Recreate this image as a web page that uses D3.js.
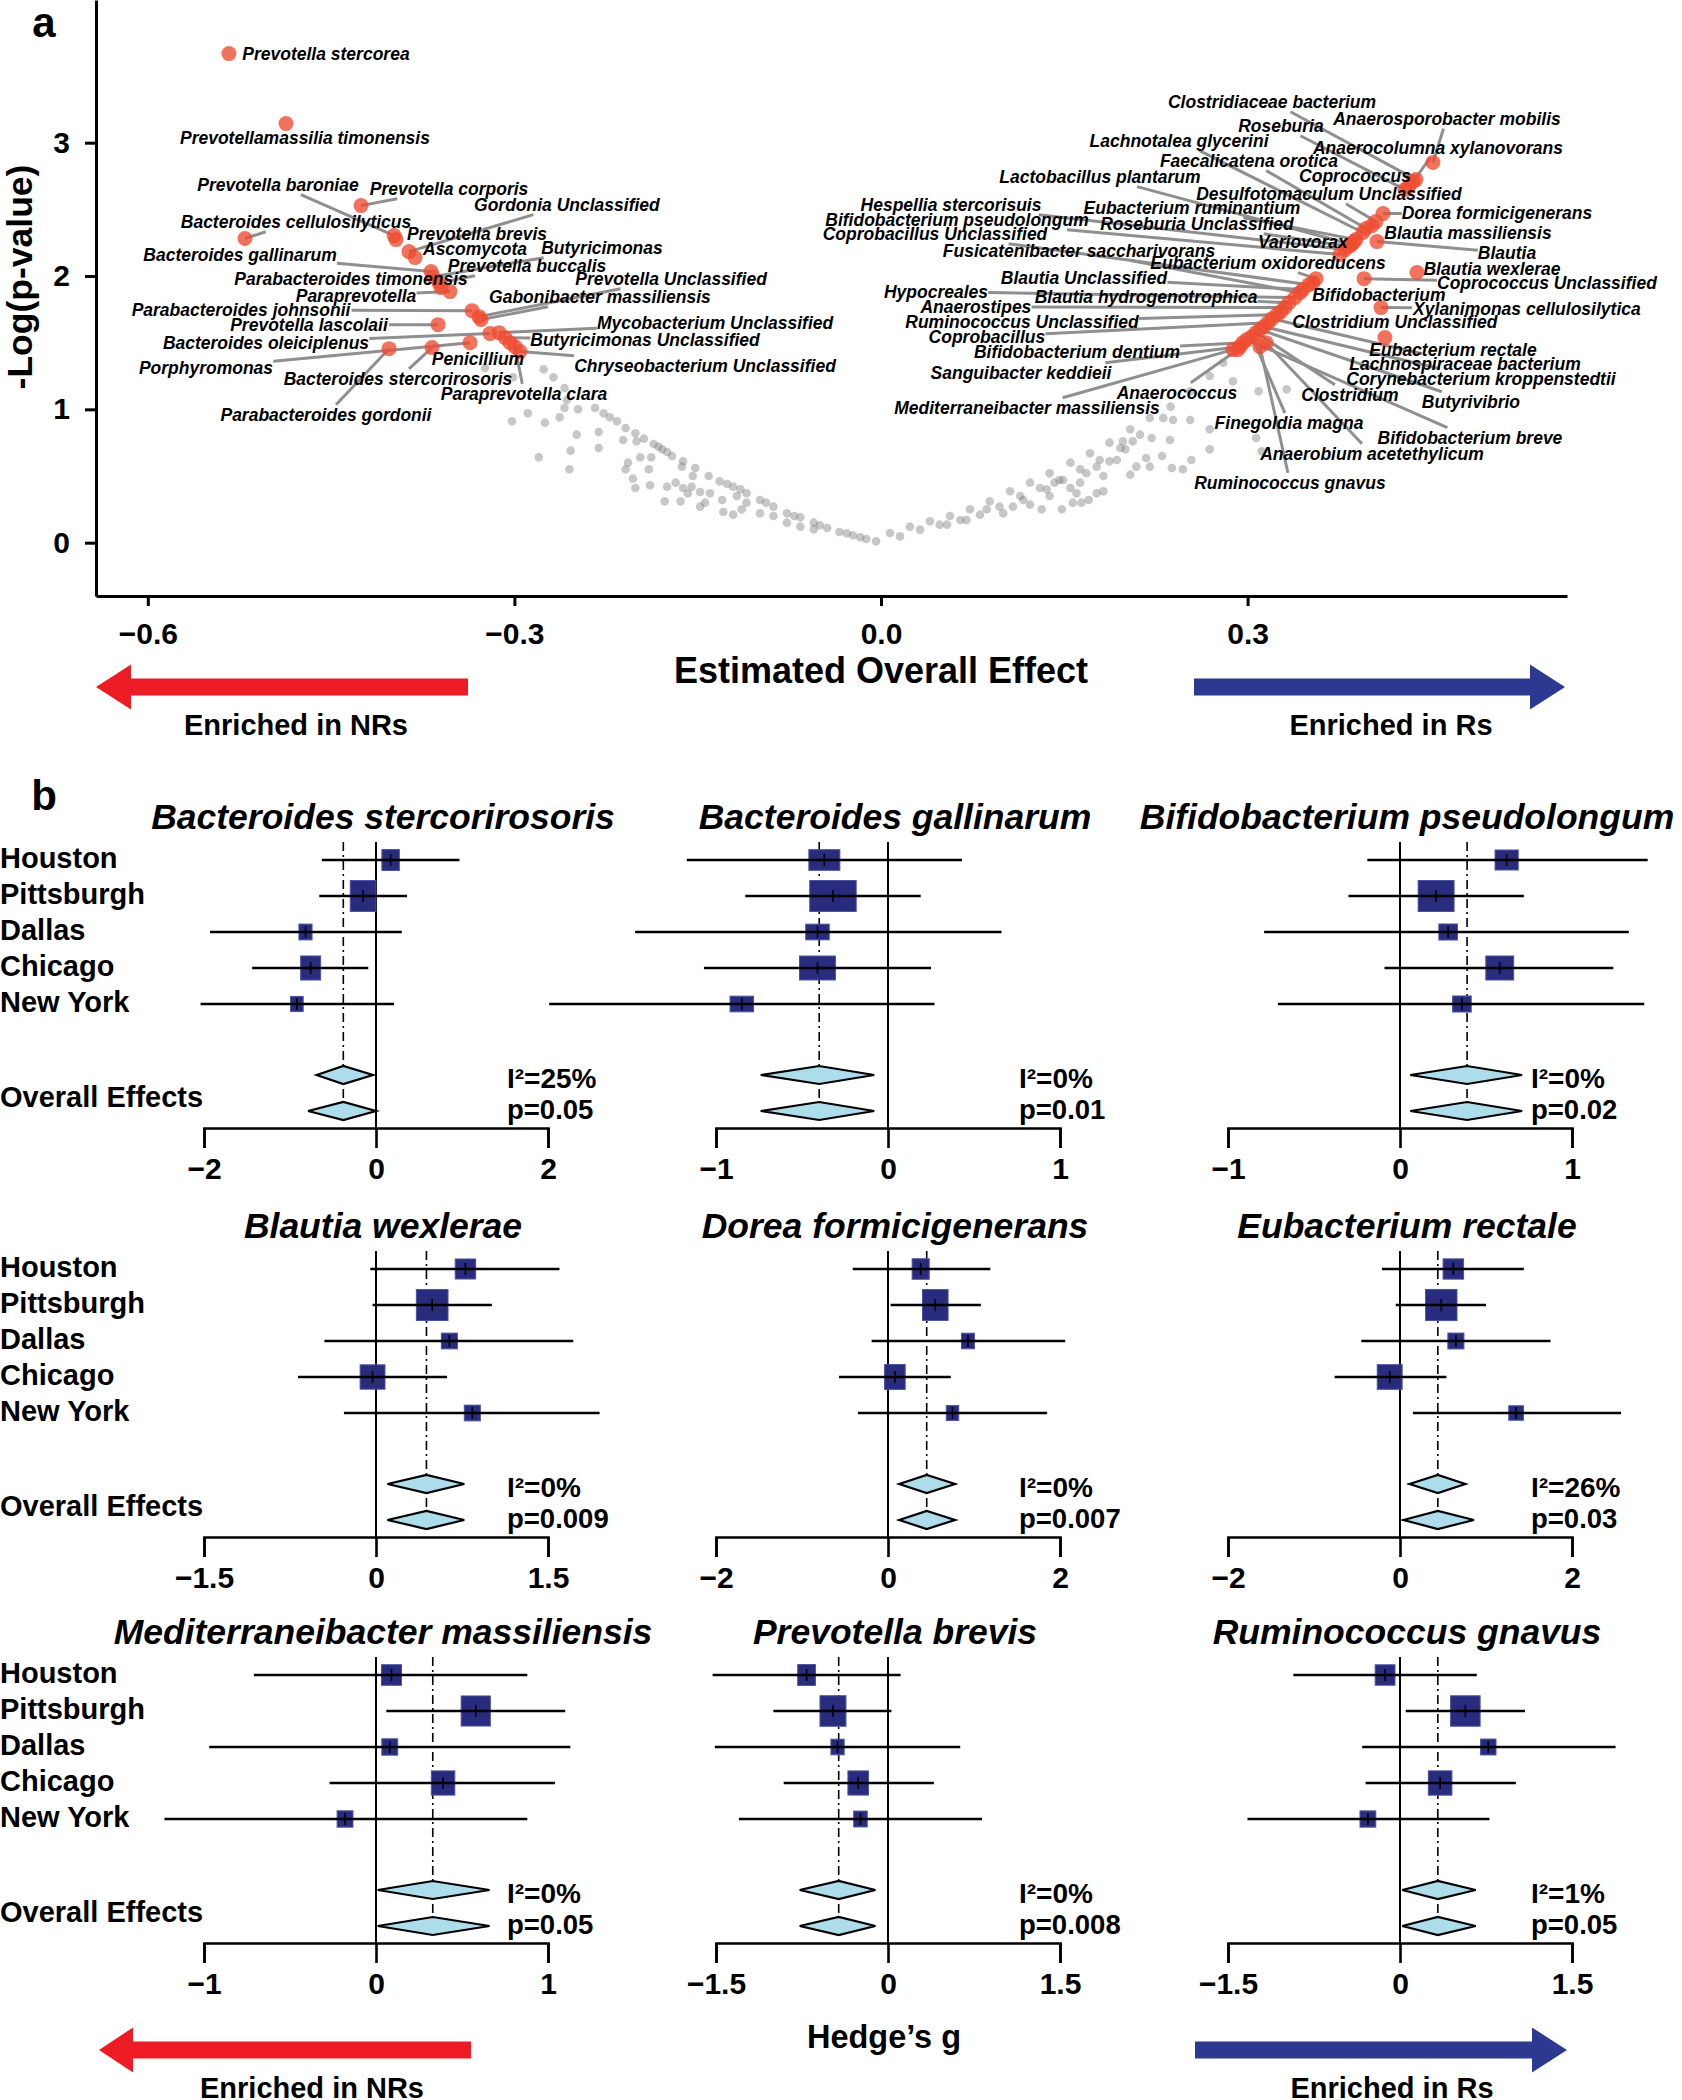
<!DOCTYPE html>
<html><head><meta charset="utf-8">
<script src="https://cdn.jsdelivr.net/npm/d3@7"></script>
<style>
body{margin:0;background:#fff}
svg{display:block}
text{font-family:"Liberation Sans",Arial,Helvetica,sans-serif;fill:#000}
</style>
</head><body>
<svg id="c" width="1682" height="2100"></svg>
<script>
// ---------------- Panel a data ----------------
const xTicksA = [-0.6, -0.3, 0.0, 0.3];
const yTicksA = [0, 1, 2, 3];

// non-significant taxa: [estimated overall effect, -log10(p)]
const grayPoints = [
 [-0.234,1.01],[-0.227,0.97],[-0.222,0.94],[-0.216,0.91],[-0.209,0.86],[-0.201,0.82],[-0.194,0.78],[-0.186,0.74],
 [-0.179,0.70],[-0.171,0.65],[-0.162,0.61],[-0.152,0.56],[-0.141,0.50],[-0.132,0.46],[-0.126,0.44],[-0.121,0.42],
 [-0.115,0.40],[-0.110,0.37],[-0.099,0.32],[-0.094,0.30],[-0.088,0.27],[-0.077,0.22],[-0.071,0.20],[-0.066,0.19],
 [-0.055,0.15],[-0.050,0.13],[-0.044,0.11],[-0.034,0.08],[-0.028,0.07],[-0.023,0.055],[-0.017,0.04],[-0.012,0.028],[-0.004,0.01],
 [-0.324,1.31],[-0.301,1.24],[-0.276,1.30],[-0.268,1.24],[-0.259,1.16],[-0.257,1.07],[-0.248,1.00],[-0.259,1.01],
 [-0.263,0.94],[-0.275,0.90],[-0.289,0.97],[-0.302,0.91],[-0.249,0.81],[-0.231,0.83],[-0.231,0.71],[-0.254,0.69],
 [-0.280,0.64],[-0.255,0.55],[-0.211,0.77],[-0.200,0.76],[-0.207,0.60],[-0.209,0.55],[-0.197,0.64],[-0.188,0.64],
 [-0.190,0.55],[-0.203,0.48],[-0.201,0.41],[-0.189,0.43],[-0.175,0.42],[-0.168,0.45],[-0.162,0.41],[-0.155,0.42],
 [-0.148,0.38],[-0.140,0.37],[-0.177,0.31],[-0.164,0.31],[-0.158,0.37],[-0.148,0.27],[-0.144,0.30],[-0.130,0.32],
 [-0.129,0.23],[-0.121,0.21],[-0.114,0.25],[-0.110,0.30],[-0.099,0.22],[-0.088,0.20],[-0.077,0.15],[-0.066,0.12],
 [-0.055,0.10],[-0.182,0.72],[-0.175,0.68],[-0.163,0.57],[-0.154,0.50],[-0.118,0.35],
 [0.0074,0.073],[0.0237,0.12],[0.040,0.16],[0.0565,0.20],[0.0728,0.25],[0.089,0.31],[0.1056,0.385],[0.122,0.45],
 [0.138,0.52],[0.155,0.60],[0.171,0.67],[0.187,0.75],[0.204,0.85],[0.220,0.935],[0.237,1.02],[0.253,1.135],
 [0.269,1.25],[0.280,1.35],[0.288,1.435],
 [0.0155,0.047],[0.032,0.098],[0.048,0.135],[0.065,0.17],[0.081,0.21],[0.097,0.27],[0.114,0.35],[0.130,0.41],
 [0.146,0.47],[0.163,0.55],[0.179,0.62],[0.196,0.71],[0.212,0.81],
 [0.288,1.21],[0.309,1.135],[0.332,1.15],[0.269,0.85],[0.239,0.92],[0.253,0.92],[0.269,0.70],[0.254,0.62],
 [0.247,0.55],[0.238,0.56],[0.230,0.65],[0.220,0.57],[0.209,0.57],[0.204,0.51],[0.217,0.635],[0.2215,0.785],
 [0.206,0.76],[0.200,0.70],[0.193,0.62],[0.182,0.50],[0.182,0.385],[0.1765,0.37],[0.170,0.32],[0.164,0.30],
 [0.157,0.30],[0.148,0.25],[0.1315,0.25],[0.122,0.285],[0.1356,0.40],[0.142,0.45],[0.149,0.47],[0.155,0.41],
 [0.163,0.45],[0.168,0.52],[0.1765,0.57],[0.187,0.61],[0.198,0.76],[0.2365,0.77],[0.307,0.785],[0.3115,0.685],
 [0.231,0.935],[0.100,0.22],[0.108,0.27],[0.0865,0.25],[0.070,0.17],[0.054,0.135],[0.1165,0.32],[0.138,0.35],[0.160,0.37]
];

// significant taxa (labelled)
const sigTaxa = [
 "Prevotella stercorea","Prevotellamassilia timonensis","Prevotella baroniae","Prevotella corporis","Gordonia Unclassified",
 "Bacteroides cellulosilyticus","Prevotella brevis","Ascomycota","Butyricimonas","Bacteroides gallinarum",
 "Prevotella buccalis","Parabacteroides timonensis","Prevotella Unclassified","Paraprevotella","Gabonibacter massiliensis",
 "Parabacteroides johnsonii","Prevotella lascolaii","Mycobacterium Unclassified","Bacteroides oleiciplenus","Butyricimonas Unclassified",
 "Porphyromonas","Penicillium","Chryseobacterium Unclassified","Bacteroides stercorirosoris","Paraprevotella clara",
 "Parabacteroides gordonii",
 "Anaerosporobacter mobilis","Clostridiaceae bacterium","Anaerocolumna xylanovorans","Coprococcus","Roseburia",
 "Lachnotalea glycerini","Faecalicatena orotica","Lactobacillus plantarum","Desulfotomaculum Unclassified","Dorea formicigenerans",
 "Hespellia stercorisuis","Eubacterium ruminantium","Bifidobacterium pseudolongum","Roseburia Unclassified","Coprobacillus Unclassified",
 "Blautia massiliensis","Variovorax","Blautia","Fusicatenibacter saccharivorans","Eubacterium oxidoreducens",
 "Blautia wexlerae","Coprococcus Unclassified","Blautia Unclassified","Hypocreales","Bifidobacterium",
 "Blautia hydrogenotrophica","Xylanimonas cellulosilytica","Anaerostipes","Ruminococcus Unclassified","Clostridium Unclassified",
 "Coprobacillus","Eubacterium rectale","Bifidobacterium dentium","Lachnospiraceae bacterium","Sanguibacter keddieii",
 "Corynebacterium kroppenstedtii","Anaerococcus","Clostridium","Butyrivibrio","Mediterraneibacter massiliensis",
 "Finegoldia magna","Bifidobacterium breve","Anaerobium acetethylicum","Ruminococcus gnavus"
];
const sigEffect = [
 -0.5336,-0.4869,-0.3985,-0.4255,-0.3863,-0.5205,-0.3969,-0.3813,-0.3666,-0.3682,
 -0.3617,-0.3601,-0.3290,-0.3527,-0.3273,-0.3347,-0.3625,-0.3126,-0.3200,-0.3077,
 -0.3363,-0.3036,-0.2954,-0.3674,-0.2995,-0.4026,
 0.4517,0.4378,0.4354,0.4321,0.4288,0.3944,0.3969,0.3854,0.4051,0.4108,
 0.3797,0.3887,0.3756,0.3830,0.3502,0.4018,0.3871,0.4059,0.3429,0.3560,
 0.4386,0.3953,0.3453,0.3388,0.3535,0.3339,0.4092,0.3306,0.3241,0.3273,
 0.3167,0.4124,0.2962,0.3200,0.2938,0.3134,0.2921,0.3069,0.3101,0.2881,
 0.3036,0.2995,0.3151,0.3101
];
const sigLogP = [
 3.668,3.143,2.303,2.528,2.183,2.281,2.273,2.138,1.995,2.033,
 1.950,1.913,1.695,1.883,1.673,1.740,1.635,1.575,1.568,1.538,
 1.500,1.500,1.433,1.463,1.470,1.455,
 2.851,2.723,2.708,2.671,2.648,2.326,2.356,2.236,2.408,2.468,
 2.198,2.273,2.161,2.221,1.935,2.378,2.258,2.258,1.875,1.980,
 2.026,1.980,1.898,1.838,1.950,1.800,1.763,1.763,1.710,1.733,
 1.650,1.538,1.500,1.680,1.470,1.620,1.448,1.575,1.598,1.448,
 1.545,1.523,1.500,1.470
];
// label anchor (in data units) of each repelled label
const labelEffect = [
 -0.4542,-0.4714,-0.4935,-0.3535,-0.2570,-0.4787,-0.3306,-0.3322,-0.2283,-0.5245,
 -0.2897,-0.4337,-0.1718,-0.4296,-0.2300,-0.5237,-0.4681,-0.1358,-0.5033,-0.1931,
 -0.5524,-0.3298,-0.1440,-0.3953,-0.2921,-0.4542,
 0.4632,0.3200,0.4558,0.3879,0.3273,0.2439,0.3011,0.1792,0.3666,0.5041,
 0.0573,0.2545,0.0622,0.2586,0.0442,0.4804,0.3453,0.5123,0.1620,0.3167,
 0.5000,0.5450,0.1661,0.0450,0.4075,0.2169,0.5286,0.0777,0.1154,0.4206,
 0.0867,0.4681,0.1604,0.4779,0.1146,0.4910,0.2422,0.3838,0.4828,0.1195,
 0.3339,0.4820,0.4018,0.3347
];
const labelLogP = [
 3.668,3.038,2.686,2.656,2.536,2.408,2.318,2.206,2.213,2.161,
 2.078,1.980,1.980,1.853,1.845,1.748,1.635,1.650,1.500,1.523,
 1.313,1.380,1.328,1.230,1.118,0.960,
 3.181,3.308,2.963,2.753,3.128,3.016,2.866,2.746,2.618,2.476,
 2.536,2.513,2.423,2.393,2.318,2.326,2.258,2.176,2.191,2.101,
 2.056,1.950,1.988,1.883,1.860,1.845,1.755,1.770,1.658,1.658,
 1.545,1.448,1.433,1.343,1.275,1.230,1.125,1.110,1.058,1.013,
 0.900,0.788,0.668,0.450
];

// ---------------- Panel b data ----------------
const cities = ["Houston", "Pittsburgh", "Dallas", "Chicago", "New York"];
const forestTaxa = ["Bacteroides stercorirosoris","Bacteroides gallinarum","Bifidobacterium pseudolongum",
 "Blautia wexlerae","Dorea formicigenerans","Eubacterium rectale",
 "Mediterraneibacter massiliensis","Prevotella brevis","Ruminococcus gnavus"];
const axisLimit = [2, 1, 1, 1.5, 2, 2, 1, 1.5, 1.5];
const studyEst = [
 [0.17,-0.15,-0.82,-0.76,-0.92],
 [-0.37,-0.32,-0.41,-0.41,-0.85],
 [0.62,0.21,0.28,0.58,0.36],
 [0.78,0.49,0.64,-0.03,0.84],
 [0.38,0.55,0.93,0.08,0.75],
 [0.62,0.48,0.65,-0.12,1.35],
 [0.09,0.58,0.08,0.39,-0.18],
 [-0.71,-0.48,-0.44,-0.26,-0.24],
 [-0.13,0.57,0.77,0.35,-0.28]
];
const studyLo = [
 [-0.63,-0.66,-1.93,-1.44,-2.04],
 [-1.17,-0.83,-1.47,-1.07,-1.97],
 [-0.19,-0.30,-0.79,-0.09,-0.71],
 [-0.05,-0.03,-0.45,-0.68,-0.28],
 [-0.41,0.03,-0.19,-0.57,-0.35],
 [-0.21,-0.05,-0.45,-0.76,0.15],
 [-0.71,0.06,-0.97,-0.27,-1.23],
 [-1.53,-1.00,-1.51,-0.91,-1.30],
 [-0.93,0.05,-0.33,-0.30,-1.33]
];
const studyHi = [
 [0.97,0.36,0.30,-0.09,0.21],
 [0.43,0.19,0.66,0.25,0.27],
 [1.44,0.72,1.33,1.24,1.42],
 [1.60,1.01,1.72,0.62,1.95],
 [1.19,1.08,2.06,0.73,1.85],
 [1.44,1.00,1.75,0.54,2.57],
 [0.88,1.10,1.13,1.04,0.88],
 [0.11,0.03,0.63,0.40,0.82],
 [0.67,1.09,1.88,1.01,0.78]
];
const studyWeight = [
 [17.9,39.0,10.2,23.6,9.4],
 [17.4,39.1,10.0,23.4,10.0],
 [16.3,39.2,10.5,23.5,10.5],
 [16.4,39.3,10.1,24.2,10.1],
 [17.2,38.7,9.9,25.2,9.1],
 [16.8,39.5,10.3,24.8,8.6],
 [17.3,36.9,10.9,23.9,10.9],
 [17.8,38.1,9.9,23.8,10.3],
 [17.0,37.8,10.3,24.1,10.8]
];
const overallEst = [-0.38,-0.40,0.39,0.44,0.45,0.44,0.33,-0.43,0.33];
const fixedLo  = [-0.69,-0.74,0.06,0.10,0.13,0.11,0.01,-0.77,0.02];
const fixedHi  = [-0.035,-0.08,0.71,0.77,0.78,0.76,0.66,-0.11,0.66];
const randomLo = [-0.79,-0.74,0.06,0.10,0.13,0.04,0.01,-0.77,0.02];
const randomHi = [0.0,-0.08,0.71,0.77,0.78,0.86,0.66,-0.11,0.66];
const i2Values = [25,0,0,0,0,26,0,0,1];
const pValues = [0.05,0.01,0.02,0.009,0.007,0.03,0.05,0.008,0.05];

// ---------------- drawing ----------------
const svg = d3.select("#c");
const RED = "#ED1C24", BLUE = "#2B3990";

function txt(g, x, y, s, size, opts = {}) {
  const t = g.append("text").attr("x", x).attr("y", y).attr("dy", "0.35em")
    .attr("font-size", size).attr("font-weight", opts.weight || "bold")
    .attr("text-anchor", opts.anchor || "start").text(s);
  if (opts.italic) t.attr("font-style", "italic");
  if (opts.rotate) t.attr("transform", `rotate(${opts.rotate},${x},${y})`);
  return t;
}
function styleAxis(g, fs, sw) {
  g.attr("font-family", '"Liberation Sans",Arial,sans-serif').attr("font-size", fs).attr("font-weight", "bold");
  g.select(".domain").attr("stroke", "#000").attr("stroke-width", sw);
  g.selectAll(".tick line").attr("stroke", "#000").attr("stroke-width", sw);
  g.selectAll(".tick text").attr("fill", "#000");
}
function arrow(g, tip, base, end, yc, color) {
  const pts = [[tip,yc],[base,yc-22.5],[base,yc-8.5],[end,yc-8.5],[end,yc+8.5],[base,yc+8.5],[base,yc+22.5]];
  g.append("polygon").attr("points", pts.map(p => p.join(",")).join(" ")).attr("fill", color);
}

// ===== Panel a =====
const xA = d3.scaleLinear().domain([-0.6424, 0.5614]).range([96, 1567]);
const yA = d3.scaleLinear().domain([-0.4, 4.07]).range([596, 0]);
const gA = svg.append("g");

txt(gA, 44, 22, "a", 42, {anchor: "middle"});

gA.append("g").attr("transform", "translate(96,0)")
  .call(d3.axisLeft(yA).tickValues(yTicksA).tickSize(11).tickSizeOuter(0).tickPadding(15).tickFormat(d3.format("d")))
  .call(g => styleAxis(g, 30, 3));
gA.append("g").attr("transform", "translate(0,596)")
  .call(d3.axisBottom(xA).tickValues(xTicksA).tickSize(10).tickSizeOuter(0).tickPadding(17).tickFormat(d3.format(".1f")))
  .call(g => styleAxis(g, 30, 3));

txt(gA, 20, 277, "-Log(p-value)", 35.5, {anchor: "middle", rotate: -90});
txt(gA, 881, 670, "Estimated Overall Effect", 36, {anchor: "middle"});

gA.append("g").selectAll("circle").data(grayPoints).join("circle")
  .attr("cx", d => xA(d[0])).attr("cy", d => yA(d[1])).attr("r", 4.3)
  .attr("fill", "#7a7a7a").attr("fill-opacity", 0.42);

const segG = gA.append("g");
const redG = gA.append("g");
const labG = gA.append("g");
sigTaxa.forEach((name, i) => {
  redG.append("circle").attr("cx", xA(sigEffect[i])).attr("cy", yA(sigLogP[i])).attr("r", 7.5)
    .attr("fill", "#EE4B30").attr("fill-opacity", 0.78);
});
sigTaxa.forEach((name, i) => {
  const lx = xA(labelEffect[i]), ly = yA(labelLogP[i]);
  const t = txt(labG, lx, ly, name, 17.5, {anchor: "middle", italic: true});
  const bb = t.node().getBBox();
  const px = xA(sigEffect[i]), py = yA(sigLogP[i]);
  // intersection of line point->label centre with label box
  const cx = bb.x + bb.width / 2, cy = bb.y + bb.height / 2;
  const dx = px - cx, dy = py - cy;
  if (Math.abs(dx) <= bb.width / 2 && Math.abs(dy) <= bb.height / 2) return;
  const s = Math.min(Math.abs(dx) > 0 ? (bb.width / 2) / Math.abs(dx) : Infinity,
                     Math.abs(dy) > 0 ? (bb.height / 2) / Math.abs(dy) : Infinity);
  const ex = cx + dx * s, ey = cy + dy * s;
  if (Math.hypot(px - ex, py - ey) > 16) {
    segG.append("line").attr("x1", px).attr("y1", py).attr("x2", ex).attr("y2", ey)
      .attr("stroke", "#8f8f8f").attr("stroke-width", 3);
  }
});

arrow(gA, 96, 131, 468, 687, RED);
arrow(gA, 1565, 1530, 1194, 687, BLUE);
txt(gA, 296, 725, "Enriched in NRs", 29, {anchor: "middle"});
txt(gA, 1391, 725, "Enriched in Rs", 29, {anchor: "middle"});

// ===== Panel b =====
const gB = svg.append("g");
txt(gB, 44, 795, "b", 42, {anchor: "middle"});
const colCenters = [376, 888, 1400];
const rowTops = [860, 1269, 1675];
const boxAspect = [0.83, 1.5, 1.16, 1.02, 0.83, 1.01, 0.97, 0.85, 0.97];
const boxScale = d3.scaleSqrt().domain([0, 100]).range([0, 49.5]);
const fmtTick = v => v === 0 ? "0" : (v < 0 ? "\u2212" : "") + Math.abs(v);

forestTaxa.forEach((taxon, i) => {
  const col = i % 3, row = Math.floor(i / 3);
  const cx = colCenters[col], y0 = rowTops[row];
  const R = axisLimit[i];
  const x = d3.scaleLinear().domain([-R, R]).range([cx - 172, cx + 172]);
  const g = gB.append("g");
  const d1y = y0 + 215, d2y = y0 + 251, axisY = y0 + 268;

  txt(g, cx + 7, y0 - 43, taxon, 35.5, {anchor: "middle", italic: true});
  if (col === 0) {
    cities.forEach((c, j) => txt(g, 0, y0 + 36 * j - 2, c, 29));
    txt(g, 0, y0 + 237, "Overall Effects", 29);
  }
  // axis
  g.append("g").attr("transform", `translate(0,${axisY})`)
    .call(d3.axisBottom(x).tickValues([-R, 0, R]).tickSize(20).tickSizeOuter(20).tickPadding(10).tickFormat(fmtTick))
    .call(a => styleAxis(a, 30, 2.6));
  // zero line
  g.append("line").attr("x1", x(0)).attr("x2", x(0)).attr("y1", y0 - 18).attr("y2", axisY)
    .attr("stroke", "#000").attr("stroke-width", 2);
  // overall effect line (dot-dash)
  g.append("line").attr("x1", x(overallEst[i])).attr("x2", x(overallEst[i]))
    .attr("y1", y0 - 18).attr("y2", d2y - 9)
    .attr("stroke", "#000").attr("stroke-width", 1.6).attr("stroke-dasharray", "9,4,2,4");
  // studies
  cities.forEach((c, j) => {
    const yy = y0 + 36 * j;
    const h = boxScale(studyWeight[i][j]), w = h * boxAspect[i];
    g.append("rect").attr("x", x(studyEst[i][j]) - w / 2).attr("y", yy - h / 2)
      .attr("width", w).attr("height", h).attr("fill", "#292C7D").attr("stroke", "#4B52A0").attr("stroke-width", 1);
    g.append("line").attr("x1", x(studyLo[i][j])).attr("x2", x(studyHi[i][j])).attr("y1", yy).attr("y2", yy)
      .attr("stroke", "#000").attr("stroke-width", 2.6);
    g.append("line").attr("x1", x(studyEst[i][j])).attr("x2", x(studyEst[i][j])).attr("y1", yy - 6).attr("y2", yy + 6)
      .attr("stroke", "#000").attr("stroke-width", 1.6);
  });
  // diamonds
  [[fixedLo[i], fixedHi[i], d1y], [randomLo[i], randomHi[i], d2y]].forEach(([lo, hi, dy]) => {
    const pts = [[x(lo), dy], [x(overallEst[i]), dy - 9], [x(hi), dy], [x(overallEst[i]), dy + 9]];
    g.append("polygon").attr("points", pts.map(p => p.join(",")).join(" "))
      .attr("fill", "#ADDDEB").attr("stroke", "#000").attr("stroke-width", 2.2);
  });
  txt(g, cx + 131, d1y + 3, "I\u00B2=" + i2Values[i] + "%", 28);
  txt(g, cx + 131, d2y - 2, "p=" + pValues[i], 27.5);
});

txt(gB, 884, 2037, "Hedge\u2019s g", 32.5, {anchor: "middle"});
arrow(gB, 99, 133, 471, 2050, RED);
arrow(gB, 1567, 1532, 1195, 2050, BLUE);
txt(gB, 312, 2088, "Enriched in NRs", 29, {anchor: "middle"});
txt(gB, 1392, 2088, "Enriched in Rs", 29, {anchor: "middle"});
</script>
</body></html>
